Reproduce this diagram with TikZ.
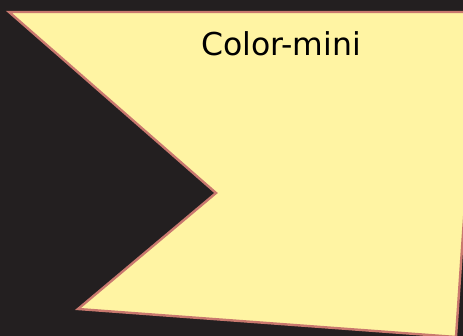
\documentclass[tikz,border=0pt]{standalone}
\usepackage{fontspec}
\setmainfont{DejaVu Sans}
\definecolor{bg}{HTML}{231F20}
\definecolor{flagfill}{HTML}{FFF4A3}
\definecolor{flagline}{HTML}{C9786E}
\tikzset{flag/.style={fill=flagfill,draw=flagline,line width=2.4pt,line join=miter},
  label/.style={font=\fontsize{31.5}{36}\selectfont,text=black,inner sep=0pt}}
\begin{document}
\begin{tikzpicture}[x=1pt,y=-1pt]
\fill[bg] (0,0) rectangle (463,336);
\useasboundingbox (0,0) rectangle (463,336);
\begin{scope}
\clip (0,0) rectangle (463,336);
\draw[flag] (9,12) coordinate (tl) -- (478,12) coordinate (tr) -- (456,337) coordinate (br) -- (78,309) coordinate (bl) -- (216,193) coordinate (notch) -- cycle;
\end{scope}
\node[label] (title) at (281,44) {Color-mini};
\end{tikzpicture}
\end{document}
